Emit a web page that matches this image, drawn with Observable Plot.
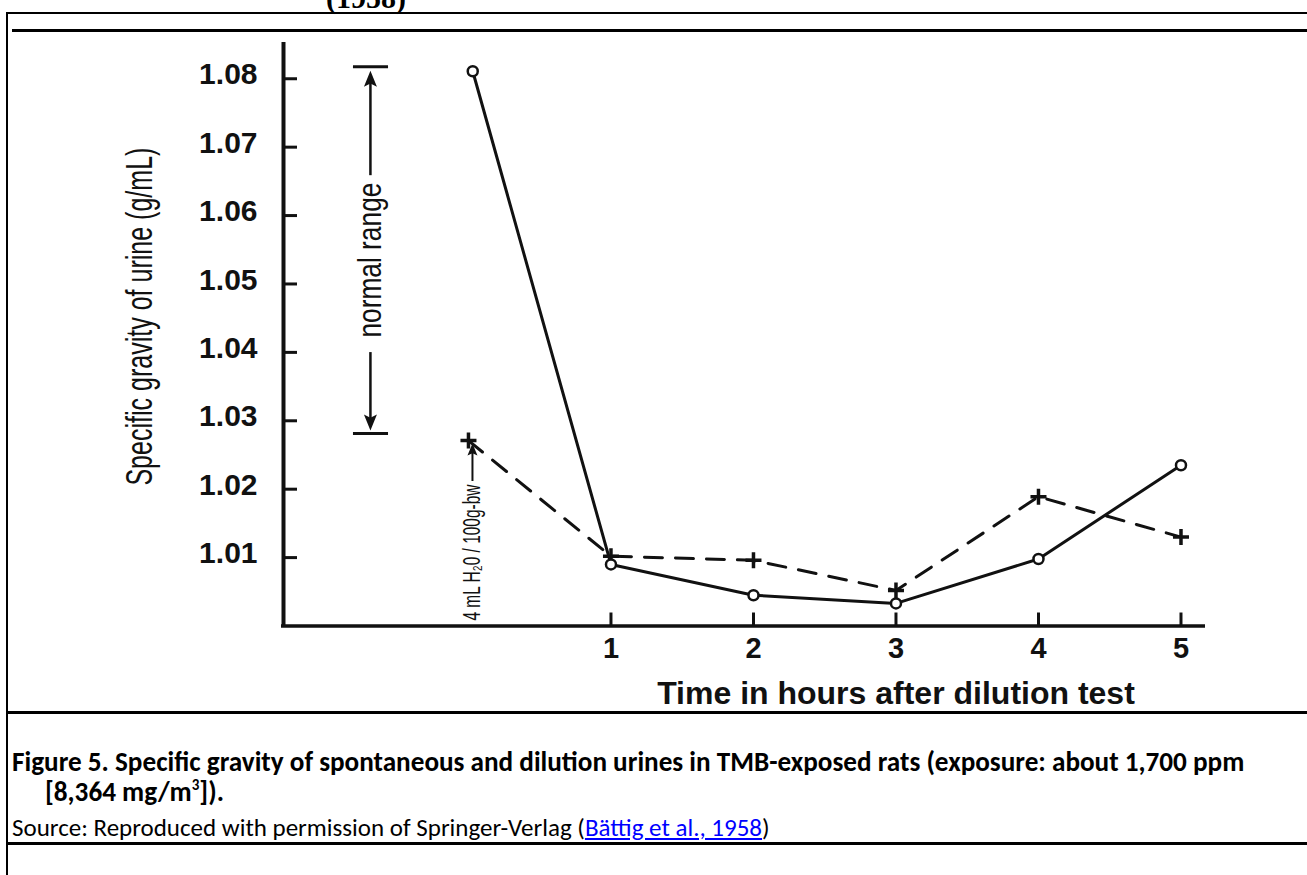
<!DOCTYPE html>
<html>
<head>
<meta charset="utf-8">
<script src="https://cdn.jsdelivr.net/npm/d3@7"></script>
<script src="https://cdn.jsdelivr.net/npm/@observablehq/plot@0.6"></script>
<style>
  html, body { margin: 0; padding: 0; background: #fff; }
  body { width: 1307px; height: 875px; position: relative; overflow: hidden; }
  .ln { position: absolute; background: #000; }
  #chart { position: absolute; left: 0; top: 0; }
  .cap { position: absolute; font-family: Carlito, Lato, "Open Sans", sans-serif; color: #000; white-space: nowrap; line-height: 1; }
  .cap sup { line-height: 0; }
  #title { position: absolute; left: 326px; top: -17px; font-family: "Liberation Serif", "DejaVu Serif", serif; font-weight: bold; font-size: 30px; line-height: 30px; }
  a { color: #0000ff; }
</style>
</head>
<body>
<div id="title">(1958)</div>
<div class="ln" style="left:6px;top:12px;width:2px;height:863px"></div>
<div class="ln" style="left:6px;top:12px;right:0;height:2px"></div>
<div class="ln" style="left:12px;top:29px;right:0;height:3px"></div>
<div id="chart"></div>
<div class="ln" style="left:6px;top:711px;right:0;height:3px"></div>
<div class="cap" style="left:12px;top:748px;font-weight:bold;font-size:27.2px">Figure 5. Specific gravity of spontaneous and dilution urines in TMB-exposed rats (exposure: about 1,700 ppm</div>
<div class="cap" style="left:45px;top:778px;font-weight:bold;font-size:27.2px">[8,364 mg/m<sup style="font-size:15px;vertical-align:0.75em">3</sup>]).</div>
<div class="cap" style="left:12px;top:815px;font-size:25px">Source: Reproduced with permission of Springer-Verlag (<a href="#">Bättig et al., 1958</a>)</div>
<div class="ln" style="left:6px;top:842px;right:0;height:3px"></div>
<script>
// ---- data ----
const circleHours = [0.03, 1, 2, 3, 4, 5];
const circleValues = [1.0811, 1.0090, 1.0045, 1.0033, 1.0098, 1.0235];
const plusHours = [0, 1, 2, 3, 4, 5];
const plusValues = [1.0271, 1.0102, 1.0096, 1.0052, 1.0189, 1.0130];
const xTicks = [1, 2, 3, 4, 5];
const yTicks = [1.01, 1.02, 1.03, 1.04, 1.05, 1.06, 1.07, 1.08];
const normalRange = [1.02813, 1.08176];
const xTitle = "Time in hours after dilution test";
const yTitle = "Specific gravity of urine (g/mL)";
const rangeLabel = "normal range";
const doseLabel = "4 mL H\u20820 / 100g-bw";

const circles = circleHours.map((h, i) => ({h, v: circleValues[i]}));
const pluses = plusHours.map((h, i) => ({h, v: plusValues[i]}));

const xDom = [-1.298, 5.172];
const yDom = [1.0, 1.0853];
const pxX = 142.5, pxY = 6843;
const cond = "'Liberation Sans', Arial, Helvetica, sans-serif";
const bold = "'Liberation Sans', Arial, Helvetica, sans-serif";

const plusSymbol = {
  draw(ctx, size) {
    const r = Math.sqrt(size / Math.PI);
    ctx.moveTo(-r, 0); ctx.lineTo(r, 0);
    ctx.moveTo(0, -r); ctx.lineTo(0, r);
  }
};
function head(dir, w, l) {
  return {
    draw(ctx) {
      ctx.moveTo(0, 0);
      ctx.lineTo(-w / 2, dir * l);
      ctx.lineTo(0, dir * l * 0.8);
      ctx.lineTo(w / 2, dir * l);
      ctx.closePath();
    }
  };
}

const xn = -0.688;
const xd = 0.028;

const svg = Plot.plot({
  width: 1307,
  height: 712,
  marginLeft: 283,
  marginRight: 102,
  marginTop: 42,
  marginBottom: 86.5,
  x: {domain: xDom, axis: null},
  y: {domain: yDom, axis: null},
  style: {background: "transparent", overflow: "visible", fontFamily: bold, color: "#111"},
  marks: [
    // axes lines
    Plot.ruleX([xDom[0]], {y1: yDom[0], y2: yDom[1], strokeWidth: 4, stroke: "#111"}),
    Plot.ruleY([yDom[0]], {x1: xDom[0] - 2 / pxX, x2: xDom[1], strokeWidth: 3.5, stroke: "#111"}),
    Plot.ruleY(yTicks, {x1: xDom[0], x2: xDom[0] + 14 / pxX, strokeWidth: 3, stroke: "#111"}),
    Plot.ruleX(xTicks, {y1: yDom[0], y2: yDom[0] + 13 / pxY, strokeWidth: 3, stroke: "#111"}),
    // tick labels
    Plot.text(yTicks, {x: xDom[0], y: d => d, text: d => d.toFixed(2), textAnchor: "end", lineAnchor: "middle", dx: -26, dy: -4, fontSize: 30, fontWeight: "bold", fill: "#111"}),
    Plot.text(xTicks, {x: d => d, y: yDom[0], text: d => String(d), lineAnchor: "top", dy: 11, fontSize: 29, fontWeight: "bold", fill: "#111"}),
    // titles
    Plot.text([xTitle], {x: 3.0, y: yDom[0], text: d => d, lineAnchor: "top", dy: 55, fontSize: 32, fontWeight: "bold", fill: "#111"}),
    Plot.text([yTitle], {x: -2.302, y: 1.04523, text: d => d, rotate: -90, lineAnchor: "middle", fontSize: 36, fontFamily: cond, fill: "#111"}),
    // normal range annotation
    Plot.ruleY(normalRange, {x1: -0.807, x2: -0.561, strokeWidth: 3, stroke: "#111"}),
    Plot.ruleX([xn], {y1: 1.06583, y2: 1.0800, strokeWidth: 2.5, stroke: "#111"}),
    Plot.ruleX([xn], {y1: 1.03997, y2: 1.0296, strokeWidth: 2.5, stroke: "#111"}),
    Plot.dot([1.08118], {x: xn, y: d => d, symbol: head(1, 13, 16), r: 6, fill: "#111", stroke: "none"}),
    Plot.dot([1.02857], {x: xn, y: d => d, symbol: head(-1, 13, 16), r: 6, fill: "#111", stroke: "none"}),
    Plot.text([rangeLabel], {x: xn, y: 1.05349, text: d => d, rotate: -90, lineAnchor: "middle", fontSize: 33, fontFamily: cond, fill: "#111"}),
    // dose annotation
    Plot.text([doseLabel], {x: xd, y: 1.0008, text: d => d, rotate: -90, textAnchor: "start", lineAnchor: "middle", fontSize: 23, fontFamily: cond, fill: "#111"}),
    Plot.ruleX([xd], {y1: 1.02112, y2: 1.0258, strokeWidth: 2, stroke: "#111"}),
    Plot.dot([1.02667], {x: xd, y: d => d, symbol: head(1, 10, 12), r: 5, fill: "#111", stroke: "none"}),
    // series
    Plot.line(pluses, {x: "h", y: "v", stroke: "#111", strokeWidth: 3, strokeDasharray: "18,13"}),
    Plot.dot(pluses, {x: "h", y: "v", symbol: plusSymbol, r: 8, stroke: "#111", strokeWidth: 3.5, fill: "none"}),
    Plot.line(circles, {x: "h", y: "v", stroke: "#111", strokeWidth: 3}),
    Plot.dot(circles, {x: "h", y: "v", r: 5, fill: "white", stroke: "#111", strokeWidth: 2.5})
  ]
});

// compress condensed labels to the reference lengths
const lengths = {};
lengths[yTitle] = 338;
lengths[rangeLabel] = 155;
lengths[doseLabel] = 136;
svg.querySelectorAll("text").forEach(t => {
  const L = lengths[t.textContent];
  if (L) { t.setAttribute("textLength", L); t.setAttribute("lengthAdjust", "spacingAndGlyphs"); }
});
document.getElementById("chart").appendChild(svg);
</script>
</body>
</html>
